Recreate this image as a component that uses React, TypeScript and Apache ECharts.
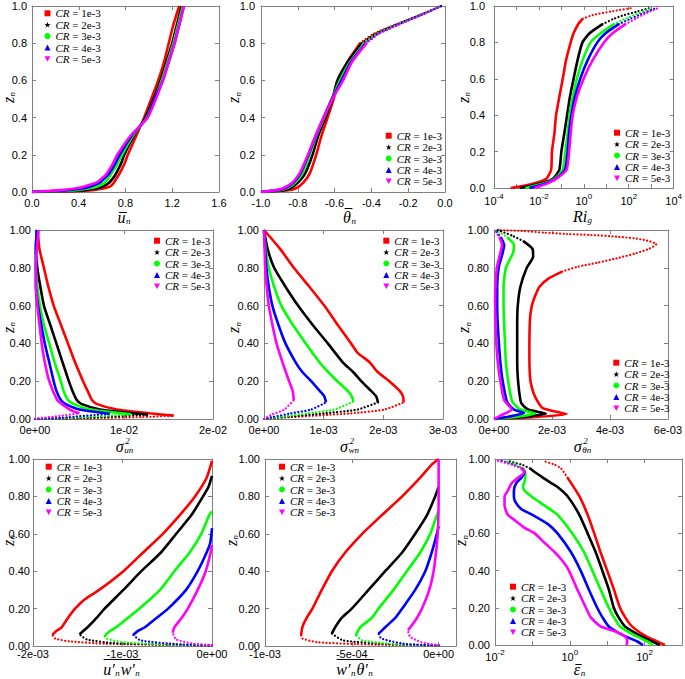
import React, { useEffect, useRef } from 'react';
import * as echarts from 'echarts';

type Pt = [number, number];

const CR_LABELS = ['CR = 1e-3', 'CR = 2e-3', 'CR = 3e-3', 'CR = 4e-3', 'CR = 5e-3'];
const CR_COLORS = ['#ff0000', '#000000', '#00ff00', '#0000ff', '#ff00ff'];
const CR_ICONS = [
  'rect',
  'path://M5,0L6.2,3.6L10,3.6L6.9,5.9L8.1,9.5L5,7.3L1.9,9.5L3.1,5.9L0,3.6L3.8,3.6Z',
  'circle',
  'triangle',
  'path://M0,0L10,0L5,9Z',
];

// ---- Panel 1: mean velocity u_n vs z_n
const U_Z = [0, 0.005, 0.01, 0.02, 0.03, 0.05, 0.08, 0.1, 0.15, 0.2, 0.3, 0.4, 0.5, 0.6, 0.7, 0.8, 0.9, 1.0];
const U_MEAN_X = [
  [0, 0.4, 0.52, 0.62, 0.67, 0.7, 0.73, 0.75, 0.79, 0.82, 0.89, 0.96, 1.02, 1.08, 1.13, 1.17, 1.21, 1.26],
  [0, 0.3, 0.45, 0.56, 0.61, 0.66, 0.7, 0.72, 0.76, 0.79, 0.87, 0.97, 1.04, 1.1, 1.15, 1.2, 1.24, 1.28],
  [0, 0.22, 0.38, 0.5, 0.56, 0.62, 0.66, 0.68, 0.73, 0.77, 0.86, 0.98, 1.05, 1.11, 1.16, 1.21, 1.25, 1.29],
  [0, 0.16, 0.3, 0.44, 0.5, 0.58, 0.63, 0.66, 0.71, 0.75, 0.85, 0.985, 1.05, 1.12, 1.17, 1.22, 1.26, 1.3],
  [0, 0.12, 0.25, 0.38, 0.45, 0.55, 0.61, 0.64, 0.69, 0.73, 0.84, 0.99, 1.06, 1.12, 1.17, 1.22, 1.26, 1.3],
];

// ---- Panel 2: mean potential temperature
const THETA_Z = [0, 0.01, 0.02, 0.05, 0.1, 0.2, 0.3, 0.4, 0.5, 0.6, 0.7, 0.8, 0.85, 0.9, 0.95, 1.0];
const THETA_MEAN_X = [
  [-1, -0.85, -0.81, -0.77, -0.735, -0.7, -0.672, -0.638, -0.605, -0.578, -0.53, -0.462, -0.39, -0.27, -0.14, -0.02],
  [-1, -0.88, -0.84, -0.8, -0.76, -0.72, -0.69, -0.65, -0.612, -0.585, -0.528, -0.452, -0.38, -0.265, -0.14, -0.02],
  [-1, -0.9, -0.86, -0.815, -0.775, -0.735, -0.7, -0.657, -0.615, -0.571, -0.515, -0.44, -0.37, -0.26, -0.135, -0.02],
  [-1, -0.91, -0.87, -0.825, -0.785, -0.742, -0.703, -0.66, -0.615, -0.562, -0.51, -0.432, -0.365, -0.255, -0.132, -0.02],
  [-1, -0.92, -0.88, -0.83, -0.79, -0.745, -0.705, -0.66, -0.612, -0.554, -0.505, -0.426, -0.36, -0.25, -0.13, -0.02],
];

// ---- Panel 3: gradient Richardson number (log x)
const RI_Z = [0, 0.02, 0.05, 0.1, 0.2, 0.3, 0.4, 0.5, 0.6, 0.7, 0.8, 0.85, 0.9, 0.93, 0.95, 0.97, 0.99];
const RI_G_X = [
  [5.5e-4, 4.5e-3, 0.021, 0.035, 0.038, 0.049, 0.058, 0.081, 0.115, 0.16, 0.26, 0.35, 0.56, 0.9, 2.5, 16, 160],
  [1.4e-3, 8.9e-3, 0.041, 0.081, 0.1, 0.135, 0.18, 0.24, 0.35, 0.52, 0.87, 1.8, 6.8, 22, 62, 250, 930],
  [2.5e-3, 0.012, 0.049, 0.115, 0.15, 0.19, 0.23, 0.32, 0.49, 0.87, 2.0, 5.6, 22, 70, 170, 450, 1100],
  [3.8e-3, 0.015, 0.054, 0.145, 0.19, 0.22, 0.28, 0.4, 0.69, 1.45, 4.0, 9.3, 36, 120, 280, 700, 1800],
  [6.3e-3, 0.019, 0.058, 0.17, 0.22, 0.26, 0.32, 0.49, 0.98, 2.4, 7.9, 19, 72, 200, 400, 900, 2200],
];

// ---- Panel 4: sigma^2_un
const SIGMA_U: Pt[][] = [
  [[0, 0], [0.006, 0.004], [0.012, 0.01], [0.0156, 0.018], [0.0129, 0.03], [0.0092, 0.05], [0.0069, 0.08], [0.0064, 0.1], [0.0059, 0.15], [0.0054, 0.2], [0.0045, 0.3], [0.0037, 0.4], [0.0029, 0.5], [0.0021, 0.6], [0.0015, 0.7], [0.001, 0.8], [0.0005, 0.9], [0.0003, 1.0]],
  [[0, 0], [0.005, 0.005], [0.0127, 0.023], [0.011, 0.03], [0.0073, 0.05], [0.0052, 0.08], [0.0047, 0.1], [0.0042, 0.15], [0.0038, 0.2], [0.0031, 0.3], [0.0024, 0.4], [0.0017, 0.5], [0.001, 0.6], [0.0006, 0.7], [0.00026, 0.8], [0.0001, 0.9], [0.0002, 1.0]],
  [[0, 0], [0.004, 0.006], [0.0108, 0.025], [0.0099, 0.03], [0.0062, 0.05], [0.0043, 0.08], [0.0037, 0.1], [0.0032, 0.15], [0.0029, 0.2], [0.0022, 0.3], [0.0016, 0.4], [0.001, 0.5], [0.00056, 0.6], [0.00026, 0.7], [0.0001, 0.8], [0.0001, 0.9], [0.0002, 1.0]],
  [[0, 0], [0.003, 0.007], [0.0084, 0.028], [0.005, 0.05], [0.0034, 0.08], [0.0029, 0.1], [0.0024, 0.15], [0.0021, 0.2], [0.0016, 0.3], [0.0011, 0.4], [0.0007, 0.5], [0.00034, 0.6], [0.0001, 0.7], [0.0001, 0.8], [0.0001, 0.9], [0.0002, 1.0]],
  [[0, 0.002], [0.002, 0.012], [0.005, 0.03], [0.0039, 0.05], [0.003, 0.08], [0.0025, 0.1], [0.0016, 0.2], [0.0011, 0.3], [0.00075, 0.4], [0.0005, 0.5], [0.00026, 0.6], [0.0001, 0.7], [0.0001, 0.8], [0.0002, 0.9], [0.0004, 1.0]],
];

// ---- Panel 5: sigma^2_wn
const SIGMA_W: Pt[][] = [
  [[0, 0], [0.45e-3, 0.01], [1.46e-3, 0.03], [2.02e-3, 0.05], [2.34e-3, 0.088], [2.33e-3, 0.12], [2.27e-3, 0.15], [2.1e-3, 0.2], [1.9e-3, 0.25], [1.77e-3, 0.3], [1.57e-3, 0.35], [1.46e-3, 0.4], [1.23e-3, 0.5], [1.01e-3, 0.6], [0.76e-3, 0.7], [0.5e-3, 0.8], [0.27e-3, 0.9], [0, 1.0]],
  [[0, 0], [0.34e-3, 0.01], [1.01e-3, 0.03], [1.57e-3, 0.05], [1.91e-3, 0.088], [1.88e-3, 0.12], [1.79e-3, 0.15], [1.63e-3, 0.2], [1.49e-3, 0.25], [1.32e-3, 0.3], [1.07e-3, 0.4], [0.81e-3, 0.5], [0.57e-3, 0.6], [0.36e-3, 0.7], [0.17e-3, 0.8], [0.06e-3, 0.9], [0, 1.0]],
  [[0, 0], [0.25e-3, 0.01], [0.73e-3, 0.03], [1.18e-3, 0.05], [1.5e-3, 0.093], [1.47e-3, 0.12], [1.4e-3, 0.15], [1.23e-3, 0.2], [1.07e-3, 0.25], [0.93e-3, 0.3], [0.7e-3, 0.4], [0.48e-3, 0.5], [0.29e-3, 0.6], [0.17e-3, 0.7], [0.08e-3, 0.8], [0.03e-3, 0.9], [0, 1.0]],
  [[0, 0], [0.14e-3, 0.01], [0.45e-3, 0.03], [0.79e-3, 0.05], [1.04e-3, 0.088], [1.01e-3, 0.12], [0.93e-3, 0.15], [0.79e-3, 0.2], [0.64e-3, 0.25], [0.53e-3, 0.3], [0.36e-3, 0.4], [0.24e-3, 0.5], [0.14e-3, 0.6], [0.08e-3, 0.7], [0.04e-3, 0.8], [0.02e-3, 0.9], [0, 1.0]],
  [[0, 0], [0.11e-3, 0.02], [0.34e-3, 0.05], [0.5e-3, 0.1], [0.48e-3, 0.15], [0.42e-3, 0.2], [0.31e-3, 0.3], [0.21e-3, 0.4], [0.14e-3, 0.5], [0.08e-3, 0.6], [0.045e-3, 0.7], [0.02e-3, 0.8], [0.01e-3, 0.9], [0, 1.0]],
];

// ---- Panel 6: sigma^2_theta_n
const SIGMA_T: Pt[][] = [
  [[0, 0], [1.2e-3, 0.008], [2.51e-3, 0.026], [1.68e-3, 0.058], [1.41e-3, 0.12], [1.3e-3, 0.17], [1.24e-3, 0.225], [1.22e-3, 0.35], [1.24e-3, 0.525], [1.3e-3, 0.595], [1.41e-3, 0.648], [1.57e-3, 0.7], [1.9e-3, 0.745], [2.35e-3, 0.78], [2.9e-3, 0.806], [3.57e-3, 0.827], [4.23e-3, 0.85], [4.9e-3, 0.877], [5.34e-3, 0.9], [5.6e-3, 0.925], [5.28e-3, 0.944], [4.84e-3, 0.956], [4.23e-3, 0.965], [3.29e-3, 0.974], [2.51e-3, 0.979], [1.74e-3, 0.986], [0.96e-3, 0.995], [0.13e-3, 1.0]],
  [[0, 0], [0.9e-3, 0.01], [1.79e-3, 0.028], [1.18e-3, 0.05], [0.96e-3, 0.08], [0.91e-3, 0.1], [0.83e-3, 0.2], [0.8e-3, 0.3], [0.8e-3, 0.4], [0.8e-3, 0.5], [0.82e-3, 0.6], [0.91e-3, 0.7], [1.13e-3, 0.8], [1.35e-3, 0.86], [1.33e-3, 0.9], [1.02e-3, 0.94], [0.63e-3, 0.97], [0.13e-3, 1.0]],
  [[0, 0], [0.7e-3, 0.01], [1.41e-3, 0.028], [0.91e-3, 0.05], [0.69e-3, 0.08], [0.61e-3, 0.1], [0.49e-3, 0.2], [0.41e-3, 0.3], [0.38e-3, 0.4], [0.35e-3, 0.5], [0.33e-3, 0.6], [0.33e-3, 0.7], [0.41e-3, 0.8], [0.66e-3, 0.88], [0.69e-3, 0.92], [0.47e-3, 0.96], [0.08e-3, 1.0]],
  [[0, 0], [0.5e-3, 0.012], [1.04e-3, 0.032], [0.69e-3, 0.05], [0.49e-3, 0.08], [0.43e-3, 0.1], [0.3e-3, 0.2], [0.22e-3, 0.3], [0.17e-3, 0.4], [0.13e-3, 0.5], [0.11e-3, 0.6], [0.11e-3, 0.7], [0.16e-3, 0.8], [0.3e-3, 0.88], [0.35e-3, 0.92], [0.24e-3, 0.96], [0.05e-3, 1.0]],
  [[0, 0], [0.25e-3, 0.02], [0.61e-3, 0.05], [0.35e-3, 0.1], [0.22e-3, 0.2], [0.13e-3, 0.3], [0.08e-3, 0.4], [0.05e-3, 0.5], [0.04e-3, 0.6], [0.05e-3, 0.7], [0.1e-3, 0.8], [0.22e-3, 0.88], [0.28e-3, 0.92], [0.19e-3, 0.96], [0.02e-3, 1.0]],
];

// ---- Panel 7: momentum flux u'w'
const FLUX_UW: Pt[][] = [
  [[0, 0.003], [-0.5e-3, 0.006], [-1.2e-3, 0.012], [-1.6e-3, 0.025], [-1.75e-3, 0.04], [-1.784e-3, 0.059], [-1.74e-3, 0.08], [-1.68e-3, 0.1], [-1.61e-3, 0.15], [-1.53e-3, 0.2], [-1.42e-3, 0.25], [-1.26e-3, 0.3], [-0.99e-3, 0.4], [-0.77e-3, 0.5], [-0.55e-3, 0.6], [-0.36e-3, 0.7], [-0.19e-3, 0.8], [-0.06e-3, 0.9], [0, 0.99]],
  [[0, 0.003], [-0.5e-3, 0.007], [-1.1e-3, 0.015], [-1.4e-3, 0.035], [-1.48e-3, 0.062], [-1.44e-3, 0.08], [-1.39e-3, 0.1], [-1.29e-3, 0.15], [-1.2e-3, 0.2], [-0.99e-3, 0.3], [-0.79e-3, 0.4], [-0.57e-3, 0.5], [-0.4e-3, 0.6], [-0.23e-3, 0.7], [-0.1e-3, 0.8], [-0.04e-3, 0.85], [0, 0.91]],
  [[0, 0.003], [-0.5e-3, 0.008], [-1.0e-3, 0.02], [-1.18e-3, 0.04], [-1.2e-3, 0.053], [-1.14e-3, 0.08], [-1.07e-3, 0.1], [-0.94e-3, 0.15], [-0.81e-3, 0.2], [-0.58e-3, 0.3], [-0.42e-3, 0.4], [-0.25e-3, 0.5], [-0.12e-3, 0.6], [-0.03e-3, 0.7], [0, 0.72]],
  [[0, 0.003], [-0.4e-3, 0.01], [-0.8e-3, 0.03], [-0.88e-3, 0.059], [-0.83e-3, 0.08], [-0.75e-3, 0.1], [-0.62e-3, 0.15], [-0.49e-3, 0.2], [-0.29e-3, 0.3], [-0.16e-3, 0.4], [-0.06e-3, 0.5], [-0.02e-3, 0.55], [0, 0.63]],
  [[0, 0.005], [-0.2e-3, 0.012], [-0.4e-3, 0.035], [-0.44e-3, 0.071], [-0.42e-3, 0.1], [-0.34e-3, 0.15], [-0.27e-3, 0.2], [-0.16e-3, 0.3], [-0.07e-3, 0.4], [-0.015e-3, 0.5], [0, 0.54]],
];

// ---- Panel 8: heat flux w'theta'
const FLUX_WT: Pt[][] = [
  [[0, 0.003], [-0.4e-3, 0.008], [-0.7e-3, 0.02], [-0.785e-3, 0.04], [-0.792e-3, 0.057], [-0.785e-3, 0.1], [-0.76e-3, 0.15], [-0.727e-3, 0.2], [-0.673e-3, 0.3], [-0.615e-3, 0.4], [-0.538e-3, 0.5], [-0.44e-3, 0.6], [-0.327e-3, 0.7], [-0.21e-3, 0.8], [-0.106e-3, 0.9], [-0.04e-3, 0.97], [0, 1.0]],
  [[0, 0.003], [-0.3e-3, 0.01], [-0.55e-3, 0.03], [-0.615e-3, 0.066], [-0.596e-3, 0.1], [-0.558e-3, 0.15], [-0.5e-3, 0.2], [-0.404e-3, 0.3], [-0.308e-3, 0.4], [-0.21e-3, 0.5], [-0.135e-3, 0.6], [-0.067e-3, 0.7], [-0.02e-3, 0.8], [0, 0.85]],
  [[0, 0.003], [-0.25e-3, 0.01], [-0.44e-3, 0.03], [-0.477e-3, 0.057], [-0.452e-3, 0.1], [-0.385e-3, 0.15], [-0.346e-3, 0.2], [-0.26e-3, 0.3], [-0.183e-3, 0.4], [-0.106e-3, 0.5], [-0.048e-3, 0.6], [-0.01e-3, 0.7], [0, 0.72]],
  [[0, 0.003], [-0.2e-3, 0.012], [-0.33e-3, 0.04], [-0.346e-3, 0.066], [-0.308e-3, 0.1], [-0.25e-3, 0.15], [-0.21e-3, 0.2], [-0.135e-3, 0.3], [-0.077e-3, 0.4], [-0.04e-3, 0.5], [-0.01e-3, 0.6], [0, 0.64]],
  [[0, 0.005], [-0.1e-3, 0.02], [-0.165e-3, 0.05], [-0.177e-3, 0.084], [-0.163e-3, 0.1], [-0.125e-3, 0.15], [-0.096e-3, 0.2], [-0.054e-3, 0.3], [-0.029e-3, 0.4], [-0.015e-3, 0.5], [-0.005e-3, 0.6], [0, 0.8], [0, 1.0]],
];

// ---- Panel 9: dissipation (log x)
const EPS: Pt[][] = [
  [[350, 0], [210, 0.02], [102, 0.05], [46, 0.1], [30, 0.15], [22, 0.2], [15, 0.3], [10, 0.4], [6.6, 0.5], [4.5, 0.6], [3.0, 0.7], [1.8, 0.8], [0.87, 0.9], [0.58, 0.95], [0.39, 0.97], [0.19, 0.99]],
  [[257, 0], [155, 0.02], [76, 0.05], [30, 0.1], [20, 0.15], [15, 0.2], [11, 0.3], [7.4, 0.4], [4.9, 0.5], [3.0, 0.6], [1.8, 0.7], [0.87, 0.8], [0.47, 0.85], [0.32, 0.87], [0.19, 0.9], [0.115, 0.93], [0.085, 0.95], [0.051, 0.97], [0.022, 0.99]],
  [[170, 0], [115, 0.02], [56, 0.05], [22, 0.1], [15, 0.15], [11, 0.2], [6.6, 0.3], [4.0, 0.4], [2.4, 0.5], [1.17, 0.6], [0.47, 0.7], [0.21, 0.75], [0.093, 0.8], [0.062, 0.83], [0.056, 0.85], [0.062, 0.88], [0.065, 0.92], [0.056, 0.95], [0.037, 0.97], [0.018, 0.99]],
  [[90, 0], [62, 0.02], [28, 0.05], [11, 0.1], [7.4, 0.15], [5.4, 0.2], [3.2, 0.3], [1.95, 0.4], [1.07, 0.5], [0.47, 0.6], [0.26, 0.65], [0.1, 0.7], [0.051, 0.73], [0.035, 0.77], [0.032, 0.8], [0.032, 0.83], [0.037, 0.87], [0.051, 0.9], [0.062, 0.93], [0.051, 0.95], [0.03, 0.97], [0.015, 0.99]],
  [[32, 0], [34, 0.01], [34, 0.03], [28, 0.05], [18, 0.07], [6.6, 0.1], [3.6, 0.15], [2.7, 0.2], [1.58, 0.3], [0.95, 0.4], [0.65, 0.45], [0.39, 0.5], [0.21, 0.55], [0.115, 0.6], [0.062, 0.63], [0.034, 0.67], [0.022, 0.7], [0.018, 0.75], [0.018, 0.8], [0.022, 0.83], [0.028, 0.87], [0.042, 0.9], [0.062, 0.93], [0.051, 0.95], [0.028, 0.97], [0.012, 0.99]],
];

const zip = (z: number[], xs: number[][]): Pt[][] => xs.map((row) => row.map((x, i) => [x, z[i]] as Pt));

const SANS = "'Liberation Sans', Arial, Helvetica, sans-serif";
const SERIF = "'Liberation Serif', 'DejaVu Serif', serif";
const FRAME = '#808080';

const fmtFixed = (d: number) => (v: number) => (Math.abs(v) < 1e-9 ? (0).toFixed(d) : v.toFixed(d));
const fmtE = (v: number) => {
  if (Math.abs(v) < 1e-12) return '0e+00';
  const e = Math.floor(Math.log10(Math.abs(v)) + 1e-9);
  const m = Math.round(v / Math.pow(10, e));
  return `${m}e${e < 0 ? '-' : '+'}${String(Math.abs(e)).padStart(2, '0')}`;
};
const fmtLog = (v: number) => {
  const e = Math.log10(v);
  const r = Math.round(e);
  if (Math.abs(e - r) > 1e-6 || r % 2 !== 0) return '';
  return `{b|10}{s|${r}}`;
};

interface Seg { t: string; sup?: string; sub?: string; bar?: number }
interface Panel {
  grid: [number, number, number, number];
  xType: 'value' | 'log';
  xMin: number; xMax: number; xInterval?: number;
  xFmt: (v: number) => string;
  xMargin: number;
  hideMaxX?: boolean;
  yDec: number; yMargin: number;
  data: Pt[][];
  legend: [number, number];
  dotAbove?: number[];
  dotLower?: boolean;
  xTitle: [number, number, Seg[], number | undefined];
  yTitle: [number, number];
}

const PANELS: Panel[] = [
  { grid: [32, 3, 187, 189], xType: 'value', xMin: 0, xMax: 1.6, xInterval: 0.4, xFmt: fmtFixed(1), xMargin: 5, yDec: 1, yMargin: 5,
    data: zip(U_Z, U_MEAN_X), legend: [44.5, 7.8], xTitle: [124.5, 217, [{ t: 'u', bar: -4.5, sub: 'n' }], undefined], yTitle: [8, 97] },
  { grid: [261, 3, 184, 189], xType: 'value', xMin: -1, xMax: 0, xInterval: 0.2, xFmt: fmtFixed(1), xMargin: 5, yDec: 1, yMargin: 6,
    data: zip(THETA_Z, THETA_MEAN_X), legend: [385.7, 130.2], dotAbove: [0.8, 0.82, 0.82, 0.82, 0.82],
    xTitle: [350, 217, [{ t: 'θ', bar: -8.5, sub: 'n' }], undefined], yTitle: [233.5, 97] },
  { grid: [494, 3, 181, 185], xType: 'log', xMin: 1e-4, xMax: 1e4, xFmt: fmtLog, xMargin: 4, yDec: 1, yMargin: 9,
    data: zip(RI_Z, RI_G_X), legend: [614, 127.2], dotAbove: [0.93, 0.9, 0.9, 0.9, 0.9],
    xTitle: [583, 216, [{ t: 'Ri', sub: 'g' }], undefined], yTitle: [463, 97] },
  { grid: [35, 230, 178, 189], xType: 'value', xMin: 0, xMax: 0.02, xInterval: 0.01, xFmt: fmtE, xMargin: 5, yDec: 2, yMargin: 4,
    data: SIGMA_U, legend: [154, 235.2], dotLower: true,
    xTitle: [125, 446, [{ t: 'σ', sup: '2', sub: 'un' }], undefined], yTitle: [8, 327] },
  { grid: [264, 230, 179, 189], xType: 'value', xMin: 0, xMax: 0.003, xInterval: 0.001, xFmt: fmtE, xMargin: 5, yDec: 2, yMargin: 5,
    data: SIGMA_W, legend: [383.3, 235.2], dotLower: true,
    xTitle: [350, 446, [{ t: 'σ', sup: '2', sub: 'wn' }], undefined], yTitle: [233.5, 327] },
  { grid: [494, 230, 181, 189], xType: 'value', xMin: 0, xMax: 0.006, xInterval: 0.002, xFmt: fmtE, xMargin: 5, yDec: 2, yMargin: 5,
    data: SIGMA_T, legend: [613.3, 357.2], dotAbove: [0.78, 0.95, 0.97, 0.97, 0.97],
    xTitle: [583, 446, [{ t: 'σ', sup: '2', sub: 'θn' }], undefined], yTitle: [463.5, 327] },
  { grid: [33, 459, 179, 187], xType: 'value', xMin: -0.002, xMax: 0, xInterval: 0.001, xFmt: fmtE, xMargin: 2, yDec: 2, yMargin: 3,
    data: FLUX_UW, legend: [45.7, 461.2], dotLower: true,
    xTitle: [122, 669, [{ t: 'u′', sub: 'n' }, { t: 'w′', sub: 'n' }], -9.5], yTitle: [8, 540] },
  { grid: [265, 459, 191, 187], xType: 'value', xMin: -0.001, xMax: 0.0001, xInterval: 0.0005, xFmt: fmtE, xMargin: 2, hideMaxX: true, yDec: 2, yMargin: 5,
    data: FLUX_WT, legend: [279, 461.2], dotLower: true,
    xTitle: [355, 669, [{ t: 'w′', sub: 'n' }, { t: 'θ′', sub: 'n' }], -9.5], yTitle: [231, 540] },
  { grid: [495, 459, 189, 186], xType: 'log', xMin: 1e-2, xMax: 1e3, xFmt: fmtLog, xMargin: 3, yDec: 2, yMargin: 5,
    data: EPS, legend: [510, 581.2], dotAbove: [0.93, 0.95, 0.95, 0.95, 0.95],
    xTitle: [580, 669, [{ t: 'ε', bar: -4.5, sub: 'n' }], undefined], yTitle: [460.5, 540] },
];

let measureCtx: CanvasRenderingContext2D | null = null;
function textWidth(t: string, size: number): number {
  if (!measureCtx) measureCtx = document.createElement('canvas').getContext('2d');
  if (!measureCtx) return t.length * size * 0.5;
  measureCtx.font = `italic ${size}px ${SERIF}`;
  return measureCtx.measureText(t).width;
}

function titleGraphic(cx: number, cy: number, segs: Seg[], barAll?: number, vertical?: boolean) {
  const kids: any[] = [];
  const txt = (s: string, px: number, py: number, size: number) => ({
    type: 'text', x: px, y: py, silent: true,
    style: { text: s, fontSize: size, fontStyle: 'italic', fontFamily: SERIF, fill: '#000', align: 'left', verticalAlign: 'middle', lineHeight: size },
  });
  let x = 0;
  for (const s of segs) {
    const wm = textWidth(s.t, 16);
    kids.push(txt(s.t, x, 0, 16));
    if (s.bar !== undefined) {
      kids.push({ type: 'line', silent: true, shape: { x1: x + 1.5, y1: s.bar, x2: x + wm + 1.5, y2: s.bar }, style: { stroke: '#000', lineWidth: 1 } });
    }
    const sx = x + wm + 0.5;
    let ws = 0;
    if (s.sup) { kids.push(txt(s.sup, sx + 1, -5, 9)); ws = Math.max(ws, textWidth(s.sup, 9) + 1); }
    if (s.sub) { kids.push(txt(s.sub, sx, 4, 9)); ws = Math.max(ws, textWidth(s.sub, 9)); }
    x = sx + ws + 1;
  }
  if (barAll !== undefined) {
    kids.push({ type: 'line', silent: true, shape: { x1: 0.5, y1: barAll, x2: x, y2: barAll }, style: { stroke: '#000', lineWidth: 1 } });
  }
  return { type: 'group', x: cx, y: cy, rotation: vertical ? Math.PI / 2 : 0, children: [{ type: 'group', x: -x / 2, y: 0, children: kids }] };
}

function buildOption() {
  const grids: any[] = [];
  const xAxes: any[] = [];
  const yAxes: any[] = [];
  const legends: any[] = [];
  const series: any[] = [];
  const graphics: any[] = [];

  const common = (i: number) => ({
    gridIndex: i,
    splitLine: { show: false },
    axisLine: { show: true, onZero: false, lineStyle: { color: FRAME, width: 1 } },
    axisTick: { show: true, inside: true, length: 4, lineStyle: { color: FRAME } },
  });
  const logRich = {
    b: { fontSize: 11, fontFamily: SANS, color: '#000', lineHeight: 14, verticalAlign: 'bottom' },
    s: { fontSize: 8, fontFamily: SANS, color: '#000', lineHeight: 9, verticalAlign: 'top' },
  };

  PANELS.forEach((p, i) => {
    const [l, t, w, h] = p.grid;
    grids.push({ left: l, top: t, width: w, height: h, show: false, containLabel: false });
    const xBase: any = p.xType === 'log'
      ? { type: 'log', logBase: 10, min: p.xMin, max: p.xMax }
      : { type: 'value', min: p.xMin, max: p.xMax, interval: p.xInterval };
    xAxes.push({
      ...common(i), ...xBase, position: 'bottom',
      axisLabel: { show: true, margin: p.xMargin, fontSize: 11, lineHeight: 12, color: '#000', fontFamily: SANS, formatter: p.xFmt,
        showMinLabel: true, showMaxLabel: !p.hideMaxX, rich: logRich },
    });
    xAxes.push({ ...common(i), ...xBase, position: 'top', axisLabel: { show: false } });
    const yBase = { type: 'value', min: 0, max: 1, interval: 0.2 };
    yAxes.push({
      ...common(i), ...yBase, position: 'left',
      axisLabel: { show: true, margin: p.yMargin, fontSize: 11, lineHeight: 12, color: '#000', fontFamily: SANS, formatter: fmtFixed(p.yDec),
        showMinLabel: true, showMaxLabel: true },
    });
    yAxes.push({ ...common(i), ...yBase, position: 'right', axisLabel: { show: false } });

    legends.push({
      orient: 'vertical', left: p.legend[0], top: p.legend[1], padding: 0, itemGap: 0.4,
      itemWidth: 6, itemHeight: 6, selectedMode: false,
      data: CR_LABELS.map((n, k) => ({ name: n, icon: CR_ICONS[k], itemStyle: { color: CR_COLORS[k], borderWidth: 0 } })),
      formatter: (n: string) => n.replace('CR', '{i|CR}'),
      textStyle: {
        fontFamily: SERIF, fontSize: 11, lineHeight: 11, color: '#000',
        rich: { i: { fontFamily: SERIF, fontStyle: 'italic', fontSize: 11, lineHeight: 11, color: '#000' } },
      },
    });

    p.data.forEach((pts, k) => {
      let solid: Pt[] = pts;
      let dotted: Pt[] = [];
      if (p.dotAbove) {
        const th = p.dotAbove[k];
        const idx = pts.findIndex((q) => q[1] > th);
        if (idx > 0) { solid = pts.slice(0, idx); dotted = pts.slice(idx - 1); }
      } else if (p.dotLower) {
        let n = 0;
        pts.forEach((q, j) => { if (Math.abs(q[0]) > Math.abs(pts[n][0])) n = j; });
        if (n > 0) { dotted = pts.slice(0, n + 1); solid = pts.slice(n); }
      }
      const base = {
        type: 'line', name: CR_LABELS[k], xAxisIndex: 2 * i, yAxisIndex: 2 * i,
        showSymbol: false, symbol: 'none', smooth: 0.2, silent: true, emphasis: { disabled: true },
        itemStyle: { color: CR_COLORS[k] }, z: 2 + k,
      };
      if (dotted.length) {
        series.push({ ...base, data: dotted, lineStyle: { color: CR_COLORS[k], width: 2.2, type: [0.1, 3.4], cap: 'round' } });
      }
      series.push({ ...base, data: solid, lineStyle: { color: CR_COLORS[k], width: 2.6 } });
    });

    graphics.push(titleGraphic(p.xTitle[0], p.xTitle[1], p.xTitle[2], p.xTitle[3], false));
    graphics.push(titleGraphic(p.yTitle[0], p.yTitle[1], [{ t: 'z', sub: 'n' }], undefined, true));
  });

  return {
    animation: false,
    backgroundColor: '#ffffff',
    grid: grids,
    xAxis: xAxes,
    yAxis: yAxes,
    legend: legends,
    series,
    graphic: graphics,
  };
}

export default function App() {
  const ref = useRef<HTMLDivElement>(null);
  useEffect(() => {
    if (!ref.current) return;
    const chart = echarts.init(ref.current, undefined, { renderer: 'svg' });
    chart.setOption(buildOption() as any);
    return () => chart.dispose();
  }, []);
  return <div ref={ref} style={{ position: 'absolute', left: 0, top: 0, width: 685, height: 679 }} />;
}
